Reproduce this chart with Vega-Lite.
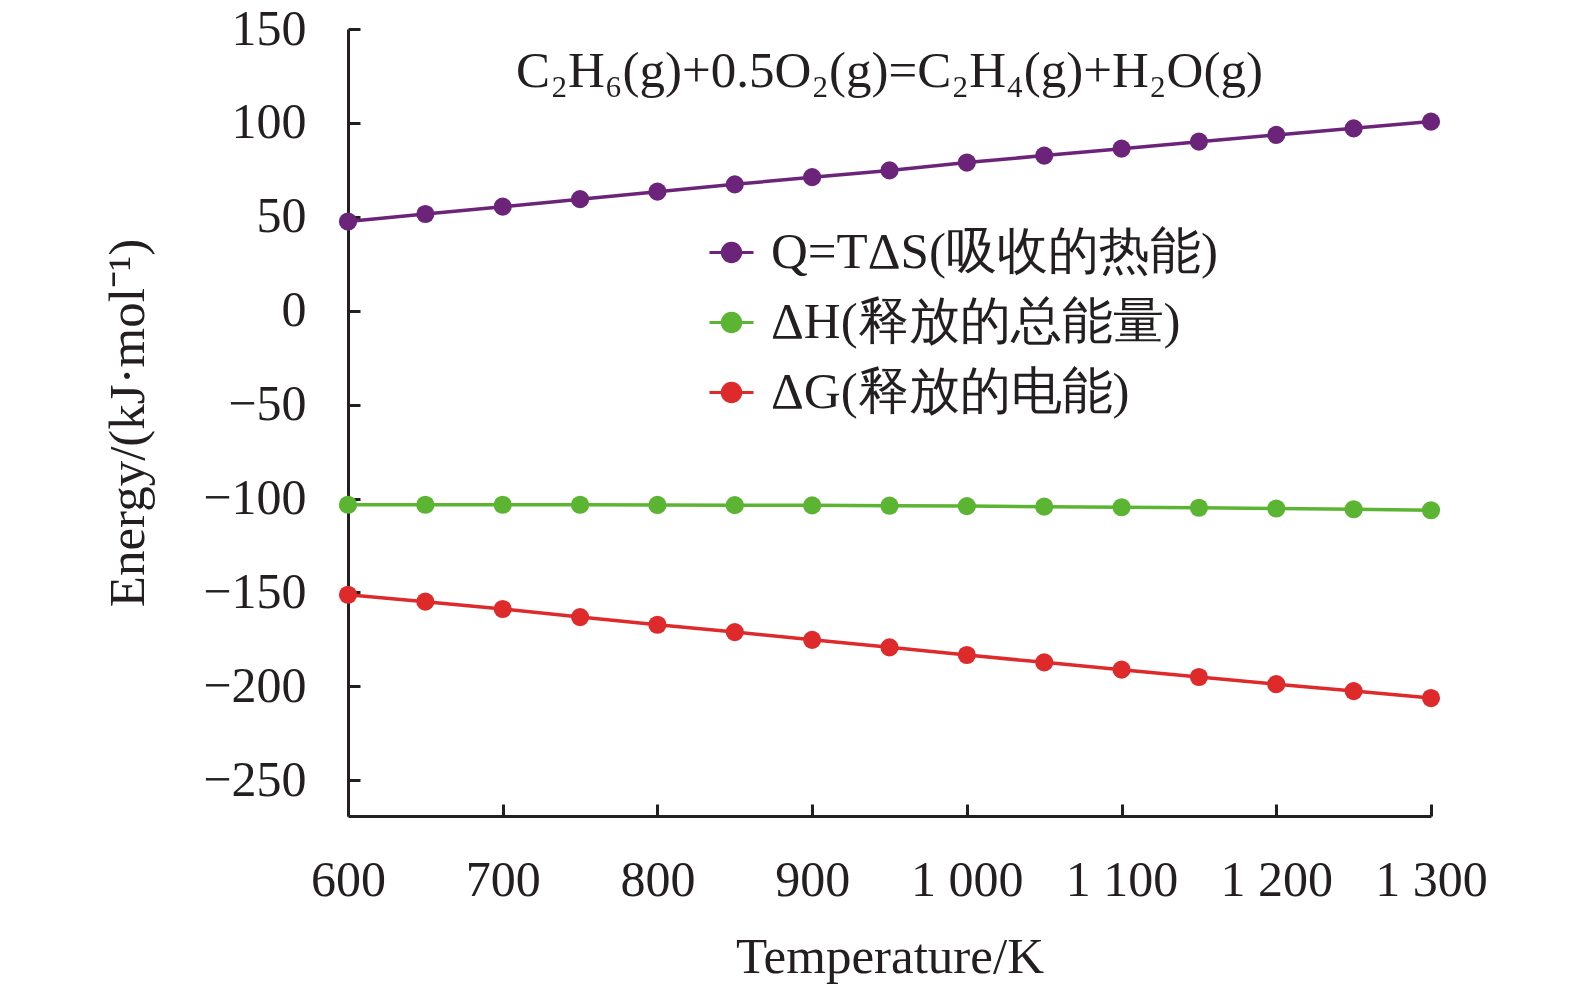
{
  "$schema": "https://vega.github.io/schema/vega-lite/v6.json",
  "width": 1083,
  "height": 787,
  "autosize": {"type": "none"},
  "padding": {"left": 348, "top": 29, "right": 144, "bottom": 172},
  "background": "white",
  "config": {"view": {"stroke": null}, "font": "Liberation Serif"},
  "data": {"values": [
    {"T": 600, "series": "Q=TΔS(吸收的热能)", "E": 47.5},
    {"T": 650, "series": "Q=TΔS(吸收的热能)", "E": 51.5},
    {"T": 700, "series": "Q=TΔS(吸收的热能)", "E": 55.4},
    {"T": 750, "series": "Q=TΔS(吸收的热能)", "E": 59.4},
    {"T": 800, "series": "Q=TΔS(吸收的热能)", "E": 63.4},
    {"T": 850, "series": "Q=TΔS(吸收的热能)", "E": 67.3},
    {"T": 900, "series": "Q=TΔS(吸收的热能)", "E": 71.1},
    {"T": 950, "series": "Q=TΔS(吸收的热能)", "E": 74.7},
    {"T": 1000, "series": "Q=TΔS(吸收的热能)", "E": 78.9},
    {"T": 1050, "series": "Q=TΔS(吸收的热能)", "E": 82.6},
    {"T": 1100, "series": "Q=TΔS(吸收的热能)", "E": 86.3},
    {"T": 1150, "series": "Q=TΔS(吸收的热能)", "E": 90.0},
    {"T": 1200, "series": "Q=TΔS(吸收的热能)", "E": 93.6},
    {"T": 1250, "series": "Q=TΔS(吸收的热能)", "E": 97.1},
    {"T": 1300, "series": "Q=TΔS(吸收的热能)", "E": 100.7},
    {"T": 600, "series": "ΔH(释放的总能量)", "E": -103.3},
    {"T": 650, "series": "ΔH(释放的总能量)", "E": -103.3},
    {"T": 700, "series": "ΔH(释放的总能量)", "E": -103.3},
    {"T": 750, "series": "ΔH(释放的总能量)", "E": -103.3},
    {"T": 800, "series": "ΔH(释放的总能量)", "E": -103.4},
    {"T": 850, "series": "ΔH(释放的总能量)", "E": -103.5},
    {"T": 900, "series": "ΔH(释放的总能量)", "E": -103.6},
    {"T": 950, "series": "ΔH(释放的总能量)", "E": -103.8},
    {"T": 1000, "series": "ΔH(释放的总能量)", "E": -104.0},
    {"T": 1050, "series": "ΔH(释放的总能量)", "E": -104.3},
    {"T": 1100, "series": "ΔH(释放的总能量)", "E": -104.6},
    {"T": 1150, "series": "ΔH(释放的总能量)", "E": -104.9},
    {"T": 1200, "series": "ΔH(释放的总能量)", "E": -105.3},
    {"T": 1250, "series": "ΔH(释放的总能量)", "E": -105.7},
    {"T": 1300, "series": "ΔH(释放的总能量)", "E": -106.2},
    {"T": 600, "series": "ΔG(释放的电能)", "E": -151.2},
    {"T": 650, "series": "ΔG(释放的电能)", "E": -154.9},
    {"T": 700, "series": "ΔG(释放的电能)", "E": -158.8},
    {"T": 750, "series": "ΔG(释放的电能)", "E": -163.1},
    {"T": 800, "series": "ΔG(释放的电能)", "E": -167.2},
    {"T": 850, "series": "ΔG(释放的电能)", "E": -171.1},
    {"T": 900, "series": "ΔG(释放的电能)", "E": -175.2},
    {"T": 950, "series": "ΔG(释放的电能)", "E": -179.2},
    {"T": 1000, "series": "ΔG(释放的电能)", "E": -183.3},
    {"T": 1050, "series": "ΔG(释放的电能)", "E": -187.2},
    {"T": 1100, "series": "ΔG(释放的电能)", "E": -191.1},
    {"T": 1150, "series": "ΔG(释放的电能)", "E": -195.0},
    {"T": 1200, "series": "ΔG(释放的电能)", "E": -198.8},
    {"T": 1250, "series": "ΔG(释放的电能)", "E": -202.5},
    {"T": 1300, "series": "ΔG(释放的电能)", "E": -206.2}
  ]},
  "encoding": {
    "x": {
      "field": "T", "type": "quantitative",
      "scale": {"domain": [600, 1300], "nice": false, "zero": false},
      "axis": {
        "values": [600, 700, 800, 900, 1000, 1100, 1200, 1300],
        "labelExpr": "datum.value >= 1000 ? floor(datum.value / 1000) + ' ' + format(datum.value % 1000, '03d') : datum.label",
        "grid": false,
        "tickSize": -12, "tickWidth": 3, "tickColor": "#231f20",
        "domainColor": "#231f20", "domainWidth": 3,
        "labelFont": "Liberation Serif", "labelFontSize": 50, "labelColor": "#231f20",
        "labelPadding": 51, "labelFlush": false, "labelOverlap": false,
        "title": "Temperature/K",
        "titleFont": "Liberation Serif", "titleFontSize": 51, "titleFontWeight": "normal", "titleColor": "#231f20",
        "titlePadding": 27
      }
    },
    "y": {
      "field": "E", "type": "quantitative",
      "scale": {"domain": [-269, 150], "nice": false, "zero": false},
      "axis": {
        "values": [150, 100, 50, 0, -50, -100, -150, -200, -250],
        "grid": false,
        "tickSize": -12, "tickWidth": 3, "tickColor": "#231f20",
        "domainColor": "#231f20", "domainWidth": 3,
        "labelFont": "Liberation Serif", "labelFontSize": 50, "labelColor": "#231f20",
        "labelPadding": 54, "labelFlush": false, "labelOverlap": false,
        "title": "Energy/(kJ·mol⁻¹)",
        "titleFont": "Liberation Serif", "titleFontSize": 51, "titleFontWeight": "normal", "titleColor": "#231f20",
        "titlePadding": 48
      }
    },
    "color": {
      "field": "series", "type": "nominal",
      "scale": {
        "domain": ["Q=TΔS(吸收的热能)", "ΔH(释放的总能量)", "ΔG(释放的电能)"],
        "range": ["#6b2479", "#5bb533", "#de2a2a"]
      },
      "legend": {
        "orient": "none", "legendX": 358, "legendY": 198,
        "title": null,
        "symbolType": "M-1,0H1M0.42,0A0.42,0.42,0,1,1,-0.42,0A0.42,0.42,0,1,1,0.42,0Z",
        "symbolSize": 1936,
        "symbolStrokeWidth": 3,
        "labelFont": "Liberation Serif",
        "labelFontSize": 51, "labelColor": "#231f20",
        "labelOffset": 14, "rowPadding": 18, "padding": 0,
        "labelLimit": 0,
        "encode": {
          "symbols": {"update": {
            "stroke": {"scale": "color", "field": "value"},
            "fill": {"scale": "color", "field": "value"},
            "strokeWidth": {"value": 3},
            "opacity": {"value": 1}
          }}
        }
      }
    }
  },
  "layer": [
    {"mark": {"type": "line", "strokeWidth": 3.5}},
    {"mark": {"type": "point", "filled": true, "size": 330, "opacity": 1}},
    {
      "data": {"values": [{"label": "C₂H₆(g)+0.5O₂(g)=C₂H₄(g)+H₂O(g)", "tx": 950, "ty": 119}]},
      "mark": {"type": "text", "font": "Liberation Serif", "fontSize": 51, "color": "#231f20", "baseline": "alphabetic", "align": "center"},
      "encoding": {
        "x": {"field": "tx", "type": "quantitative"},
        "y": {"field": "ty", "type": "quantitative"},
        "text": {"field": "label"},
        "color": {"value": "#231f20"}
      }
    }
  ]
}
